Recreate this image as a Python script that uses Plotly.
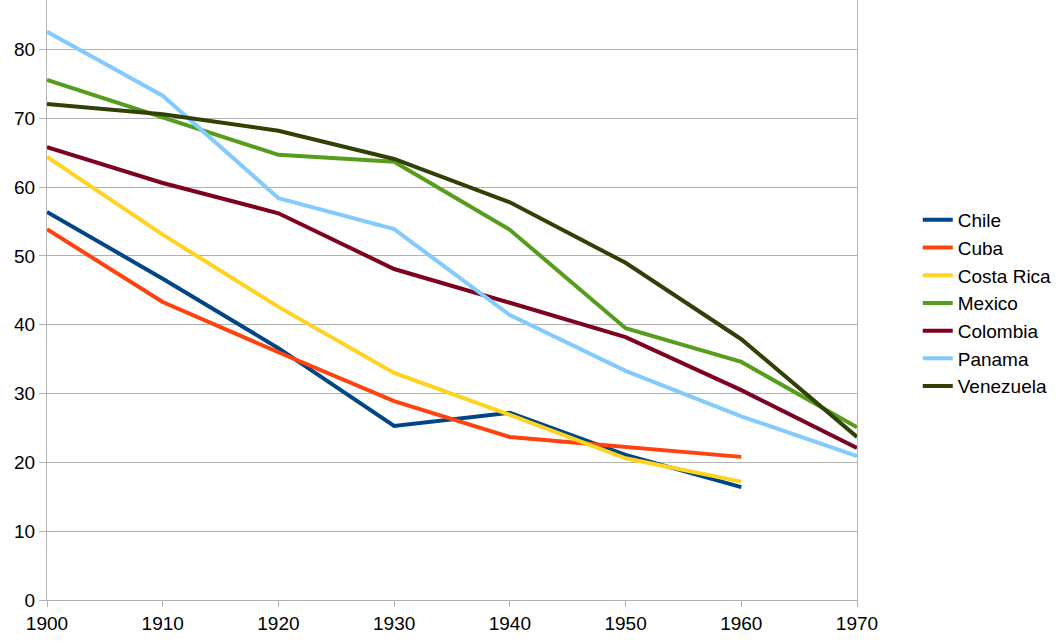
import plotly.graph_objects as go

years = [1900, 1910, 1920, 1930, 1940, 1950, 1960, 1970]

chile = [56.4, 46.7, 36.6, 25.3, 27.2, 21.1, 16.4, None]
cuba = [53.9, 43.3, 36.0, 28.9, 23.7, 22.2, 20.8, None]
costa_rica = [64.4, 53.1, 42.6, 33.0, 26.9, 20.6, 17.2, None]
mexico = [75.6, 70.1, 64.7, 63.7, 53.8, 39.5, 34.6, 25.1]
colombia = [65.8, 60.6, 56.2, 48.1, 43.2, 38.2, 30.5, 22.1]
panama = [82.6, 73.3, 58.4, 53.9, 41.4, 33.3, 26.7, 20.9]
venezuela = [72.1, 70.6, 68.2, 64.1, 57.8, 49.0, 37.9, 23.7]

series = [
    ("Chile", chile, "#004586"),
    ("Cuba", cuba, "#ff420e"),
    ("Costa Rica", costa_rica, "#ffd320"),
    ("Mexico", mexico, "#579d1c"),
    ("Colombia", colombia, "#7e0021"),
    ("Panama", panama, "#83caff"),
    ("Venezuela", venezuela, "#314004"),
]

fig = go.Figure()
for name, vals, color in series:
    fig.add_trace(go.Scatter(x=years, y=vals, name=name, mode="lines",
                             line=dict(color=color, width=4)))

fig.update_layout(
    width=1064, height=643,
    margin=dict(l=47, r=207, t=0, b=43),
    paper_bgcolor="white", plot_bgcolor="white",
    font=dict(family="Liberation Sans, Arial, sans-serif", size=19, color="#000000"),
    legend=dict(x=1.075, y=0.495, xanchor="left", yanchor="middle",
                font=dict(size=19), tracegroupgap=0, itemwidth=30),
    showlegend=True,
)
fig.update_xaxes(range=[1900, 1970], tickvals=years, ticktext=[str(y) for y in years],
                 showgrid=False, showline=True, linecolor="#b3b3b3", linewidth=1,
                 ticks="outside", ticklen=6, tickcolor="#b3b3b3", zeroline=False)
fig.update_yaxes(range=[0, 87.2], tickvals=[0, 10, 20, 30, 40, 50, 60, 70, 80],
                 showgrid=True, gridcolor="#b3b3b3", gridwidth=1,
                 showline=True, linecolor="#b3b3b3", linewidth=1, mirror=True,
                 ticks="outside", ticklen=7, tickcolor="#b3b3b3", zeroline=False)

fig.write_html("out.html", config={"displayModeBar": False},
               post_script="document.body.style.margin='0';")
